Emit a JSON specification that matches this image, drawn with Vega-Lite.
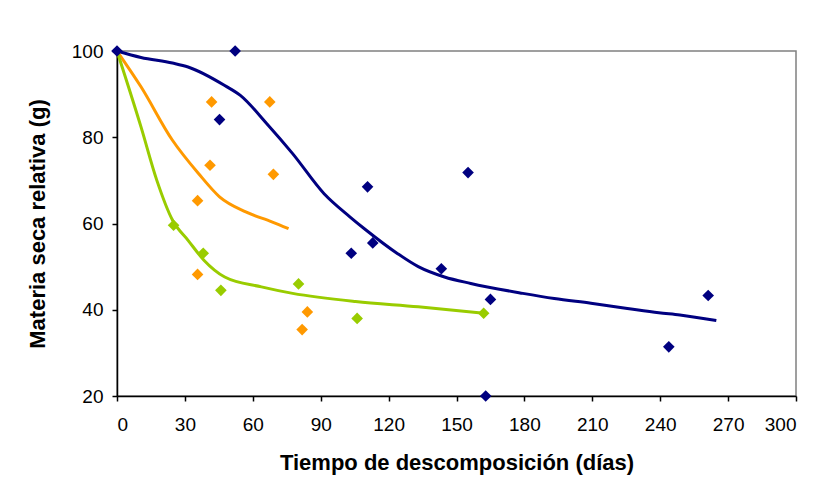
{
  "$schema": "https://vega.github.io/schema/vega-lite/v6.json",
  "autosize": {"type": "none"},
  "padding": {"left": 117, "top": 51, "right": 23, "bottom": 89},
  "width": 679,
  "height": 345,
  "background": "white",
  "config": {
    "font": "Liberation Sans",
    "view": {"stroke": "#808080", "strokeWidth": 1.5},
    "axis": {"grid": false, "domainColor": "black", "domainWidth": 1.5, "tickColor": "black", "tickWidth": 1.5, "tickSize": 5, "labelFont": "Liberation Sans", "labelFontSize": 19, "labelColor": "black", "titleFont": "Liberation Sans", "titleFontSize": 22, "titleFontWeight": "bold", "titleColor": "black"}
  },
  "datasets": {
    "pts": [
      {"serie": "A", "dias": 0, "ms": 100},
      {"serie": "A", "dias": 52.2, "ms": 100},
      {"serie": "A", "dias": 45.3, "ms": 84.1},
      {"serie": "A", "dias": 110.7, "ms": 68.5},
      {"serie": "A", "dias": 155.1, "ms": 71.8},
      {"serie": "A", "dias": 103.5, "ms": 53.1},
      {"serie": "A", "dias": 113, "ms": 55.5},
      {"serie": "A", "dias": 143.3, "ms": 49.5},
      {"serie": "A", "dias": 165, "ms": 42.4},
      {"serie": "A", "dias": 162.9, "ms": 20},
      {"serie": "A", "dias": 243.8, "ms": 31.4},
      {"serie": "A", "dias": 261.2, "ms": 43.3},
      {"serie": "B", "dias": 41.8, "ms": 88.2},
      {"serie": "B", "dias": 67.5, "ms": 88.2},
      {"serie": "B", "dias": 41.1, "ms": 73.5},
      {"serie": "B", "dias": 69.1, "ms": 71.4},
      {"serie": "B", "dias": 35.6, "ms": 65.3},
      {"serie": "B", "dias": 35.6, "ms": 48.2},
      {"serie": "B", "dias": 84.1, "ms": 39.5},
      {"serie": "B", "dias": 81.8, "ms": 35.4},
      {"serie": "C", "dias": 25, "ms": 59.6},
      {"serie": "C", "dias": 38.1, "ms": 53.1},
      {"serie": "C", "dias": 45.9, "ms": 44.5},
      {"serie": "C", "dias": 80.2, "ms": 46.0},
      {"serie": "C", "dias": 106.1, "ms": 38.0},
      {"serie": "C", "dias": 162, "ms": 39.2}
    ],
    "lines": [
      {"serie": "A", "dias": 0, "ms": 100},
      {"serie": "A", "dias": 10.6, "ms": 98.5},
      {"serie": "A", "dias": 24.5, "ms": 97.2},
      {"serie": "A", "dias": 31.4, "ms": 96.3},
      {"serie": "A", "dias": 47.6, "ms": 92},
      {"serie": "A", "dias": 54.5, "ms": 89.7},
      {"serie": "A", "dias": 66.1, "ms": 83.2},
      {"serie": "A", "dias": 77.6, "ms": 76.2},
      {"serie": "A", "dias": 91.5, "ms": 66.9},
      {"serie": "A", "dias": 103, "ms": 61.5},
      {"serie": "A", "dias": 110, "ms": 58.5},
      {"serie": "A", "dias": 124, "ms": 53},
      {"serie": "A", "dias": 133.1, "ms": 50},
      {"serie": "A", "dias": 144.7, "ms": 47.6},
      {"serie": "A", "dias": 156.3, "ms": 46.1},
      {"serie": "A", "dias": 179.3, "ms": 43.8},
      {"serie": "A", "dias": 193.2, "ms": 42.6},
      {"serie": "A", "dias": 209.4, "ms": 41.5},
      {"serie": "A", "dias": 225.5, "ms": 40.3},
      {"serie": "A", "dias": 239.4, "ms": 39.3},
      {"serie": "A", "dias": 248.7, "ms": 38.8},
      {"serie": "A", "dias": 264.8, "ms": 37.5},
      {"serie": "B", "dias": 0, "ms": 100},
      {"serie": "B", "dias": 10.6, "ms": 91.7},
      {"serie": "B", "dias": 24.5, "ms": 79.3},
      {"serie": "B", "dias": 36, "ms": 71.6},
      {"serie": "B", "dias": 45.3, "ms": 66.2},
      {"serie": "B", "dias": 56.9, "ms": 62.7},
      {"serie": "B", "dias": 68.4, "ms": 60.4},
      {"serie": "B", "dias": 75.8, "ms": 58.8},
      {"serie": "C", "dias": 0, "ms": 100},
      {"serie": "C", "dias": 10.6, "ms": 82.4},
      {"serie": "C", "dias": 17.6, "ms": 70},
      {"serie": "C", "dias": 24.5, "ms": 60.8},
      {"serie": "C", "dias": 31.4, "ms": 56.1},
      {"serie": "C", "dias": 38.4, "ms": 51.5},
      {"serie": "C", "dias": 47.6, "ms": 47.6},
      {"serie": "C", "dias": 63.8, "ms": 45.3},
      {"serie": "C", "dias": 77.6, "ms": 43.8},
      {"serie": "C", "dias": 105.4, "ms": 41.9},
      {"serie": "C", "dias": 133.1, "ms": 40.7},
      {"serie": "C", "dias": 162, "ms": 39.2}
    ]
  },
  "encoding": {
    "x": {"field": "dias", "type": "quantitative", "scale": {"domain": [0, 300], "nice": false}, "axis": {"values": [0, 30, 60, 90, 120, 150, 180, 210, 240, 270, 300], "title": "Tiempo de descomposición (días)", "labelPadding": 14, "titlePadding": 18}},
    "y": {"field": "ms", "type": "quantitative", "scale": {"domain": [20, 100], "nice": false, "zero": false}, "axis": {"values": [20, 40, 60, 80, 100], "title": "Materia seca relativa (g)", "labelPadding": 9, "titlePadding": 22}},
    "color": {"field": "serie", "type": "nominal", "scale": {"domain": ["A", "B", "C"], "range": ["#000080", "#FF9900", "#99CC00"]}, "legend": null}
  },
  "layer": [
    {"data": {"name": "lines"}, "mark": {"type": "line", "interpolate": "monotone", "strokeWidth": 3}, "encoding": {"detail": {"field": "serie"}}},
    {"data": {"name": "pts"}, "mark": {"type": "point", "shape": "diamond", "filled": true, "size": 135, "opacity": 1}}
  ]
}
